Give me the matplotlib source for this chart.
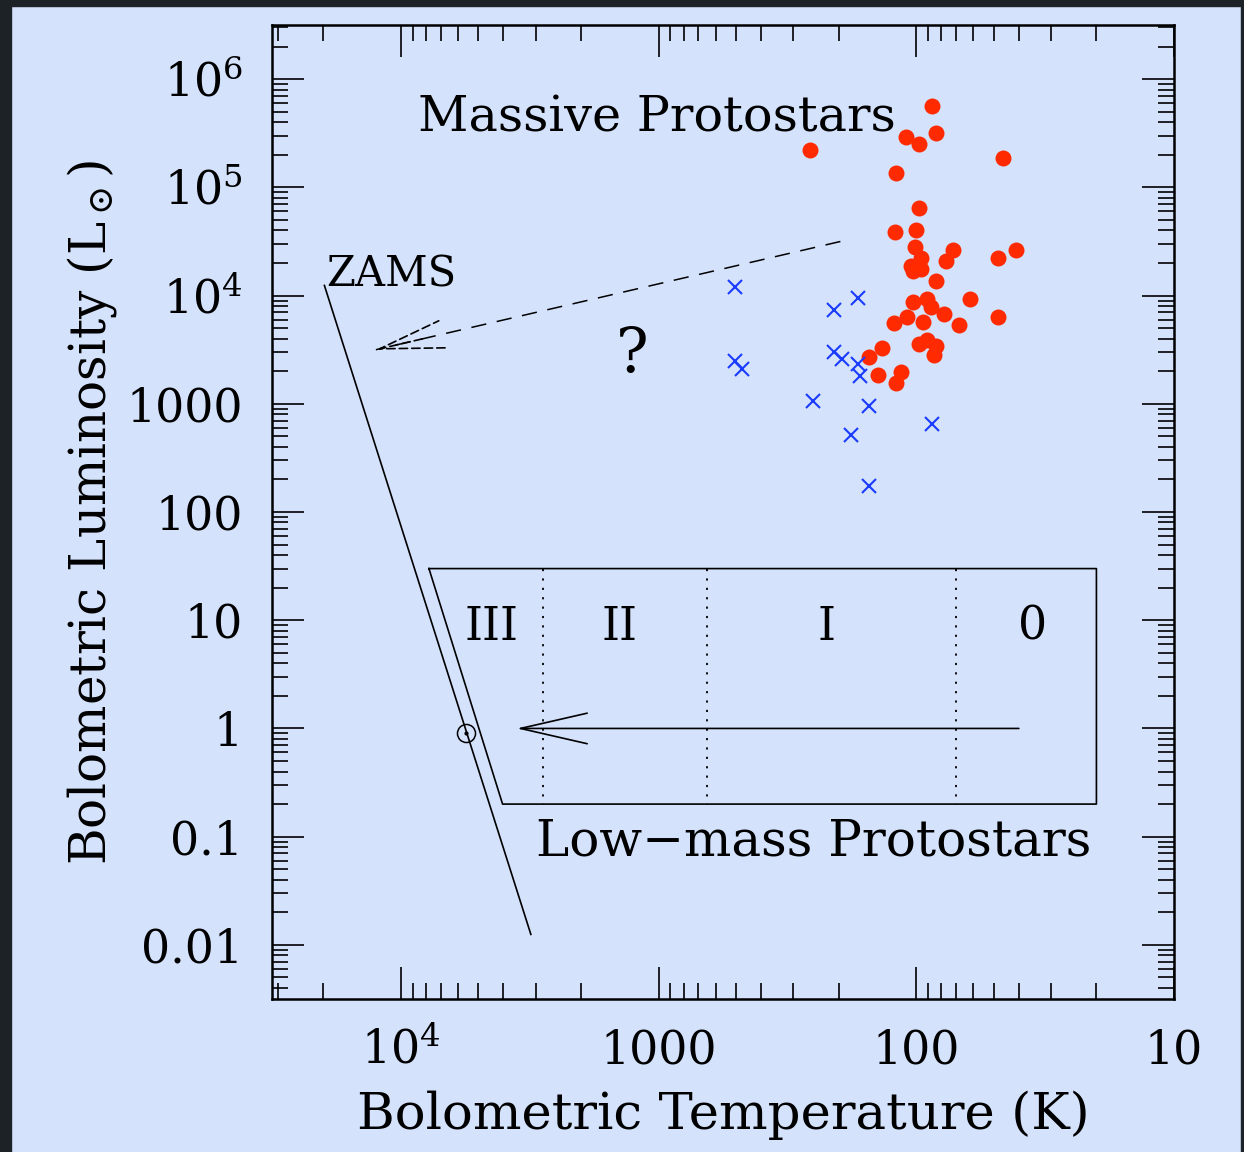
import numpy as np
import matplotlib
matplotlib.use("Agg")
import matplotlib.pyplot as plt
from matplotlib import ticker
from matplotlib.patches import Rectangle

plt.rcParams['font.family'] = ['DejaVu Serif', 'DejaVu Sans']
plt.rcParams['mathtext.fontset'] = 'dejavuserif'

# massive protostars (red dots): Tbol (K), Lbol (Lsun)
massive_T = [87, 110, 98, 84, 259, 46, 120, 98, 121, 100, 101, 72, 41, 48, 77,
             96, 105, 96, 103, 84, 62, 103, 91, 88, 78, 109, 122, 94, 68, 48,
             98, 91, 84, 85, 136, 152, 141, 115, 120]
massive_L = [5.6e5, 2.9e5, 2.5e5, 3.2e5, 2.2e5, 1.87e5, 1.35e5, 6.5e4, 3.9e4, 4.0e4,
             2.8e4, 2.65e4, 2.65e4, 2.2e4, 2.08e4, 2.2e4, 1.86e4, 1.76e4, 1.67e4, 1.37e4,
             9.3e3, 8.7e3, 9.3e3, 7.8e3, 6.8e3, 6.4e3, 5.6e3, 5.7e3, 5.3e3, 6.4e3,
             3.6e3, 3.9e3, 3.4e3, 2.8e3, 3.3e3, 2.7e3, 1.86e3, 1.95e3, 1.56e3]

# other sources (blue crosses)
cross_T = [505, 168, 208, 208, 194, 505, 474, 169, 166, 251, 153, 87, 179, 153]
cross_L = [1.19e4, 9.5e3, 7.3e3, 3.0e3, 2.6e3, 2.5e3, 2.1e3, 2.33e3, 1.79e3, 1060,
           946, 645, 518, 175]

# zero-age main sequence
zams_T = [19800, 3130]
zams_L = [1.24e4, 0.0125]

# low-mass protostar box (trapezoid) and class boundaries
box_T = [7780, 20, 20, 4030, 7780]
box_L = [30, 30, 0.2, 0.2, 30]
class_bounds = [2800, 650, 70]
class_names = ['III', 'II', 'I', '0']
class_T = [4440, 1416, 223, 35.5]

# evolution arrows (start, end)
lowmass_arrow_T = [40, 3550]
lowmass_arrow_L = [1, 1]
massive_arrow_T = [197, 12500]
massive_arrow_L = [3.16e4, 3160]

sun_T, sun_L = 5600, 0.9

bg = '#d4e2fc'
fig = plt.figure(figsize=(12.44, 11.52), dpi=100)
fig.patch.set_facecolor(bg)
W, H = 1244, 1152
for (x0, y0, w, h) in [(0, 0, 11, H), (0, H - 6, W, 6), (W - 3, 0, 3, H)]:
    fig.add_artist(Rectangle((x0 / W, y0 / H), w / W, h / H, transform=fig.transFigure,
                             color='#1d2226', zorder=10))

ax = fig.add_axes([272 / W, 1 - 999 / H, 902 / W, 974 / H])
ax.set_facecolor(bg)
ax.set_xscale('log')
ax.set_yscale('log')
ax.set_xlim(10 ** 4.5, 10)
ax.set_ylim(10 ** -2.5, 10 ** 6.5)

ax.plot(massive_T, massive_L, 'o', color='#ff2a00', ms=11.5, mec='none', zorder=3)
ax.plot(cross_T, cross_L, 'x', color='#1a3cff', ms=9.5, mew=1.5, zorder=3)

ax.plot(zams_T, zams_L, color='k', lw=1.2)
ax.plot(box_T, box_L, color='k', lw=1.2)
for tb in class_bounds:
    ax.plot([tb, tb], [box_L[0], box_L[2]], color='k', lw=1.3, ls=(0, (1.2, 4)))
for name, t in zip(class_names, class_T):
    ax.text(t, 6.6, name, ha='center', va='baseline', fontsize=33)

ax.plot([sun_T], [sun_L], 'o', ms=13, mfc='none', mec='k', mew=1.1)
ax.plot([sun_T], [sun_L], '.', ms=4, color='k')

ax.annotate('', xy=(lowmass_arrow_T[1], lowmass_arrow_L[1]),
            xytext=(lowmass_arrow_T[0], lowmass_arrow_L[0]),
            arrowprops=dict(arrowstyle='->,head_length=2.4,head_width=0.55', color='k',
                            lw=1.2, shrinkA=0, shrinkB=0, mutation_scale=20))

# dashed track for massive protostars: long dashed line, head drawn on a short piece
ax.plot(massive_arrow_T, massive_arrow_L, color='k', lw=1.1, ls=(0, (10, 7)))
lt = np.log10(massive_arrow_T)
ll = np.log10(massive_arrow_L)
head_from = (10 ** (lt[1] + 0.1 * (lt[0] - lt[1])), 10 ** (ll[1] + 0.1 * (ll[0] - ll[1])))
ax.annotate('', xy=(massive_arrow_T[1], massive_arrow_L[1]), xytext=head_from,
            arrowprops=dict(arrowstyle='->,head_length=2.3,head_width=0.5', color='k',
                            lw=1.2, ls=(0, (5, 2.5)), shrinkA=0, shrinkB=0,
                            mutation_scale=20))

ax.text(8600, 3.3e5, 'Massive Protostars', ha='left', va='baseline', fontsize=35.5)
ax.text(19500, 1.2e4, 'ZAMS', ha='left', va='baseline', fontsize=30)
ax.text(3000, 0.067, 'Low\u2212mass Protostars', ha='left', va='baseline', fontsize=36)
ax.text(1260, 1980, '?', ha='center', va='baseline', fontsize=44)


def fmt(v, pos):
    if v >= 1e4:
        return r'$10^{%d}$' % round(np.log10(v))
    if v >= 1:
        return '%d' % round(v)
    return '%g' % v


for axis in (ax.xaxis, ax.yaxis):
    axis.set_major_locator(ticker.LogLocator(base=10, subs=(1.0,), numticks=20))
    axis.set_minor_locator(ticker.LogLocator(base=10, subs=np.arange(2, 10), numticks=20))
    axis.set_major_formatter(ticker.FuncFormatter(fmt))
    axis.set_minor_formatter(ticker.NullFormatter())

ax.tick_params(which='both', direction='in', top=True, right=True, width=1.2,
               labelsize=33, pad=21)
ax.tick_params(which='major', length=23)
ax.tick_params(which='minor', length=11.5)
for sp in ax.spines.values():
    sp.set_linewidth(1.8)

ax.set_xlabel('Bolometric Temperature (K)', fontsize=37)
ax.set_ylabel(r'Bolometric Luminosity (L$_\odot$)', fontsize=36)
ax.xaxis.set_label_coords(0.5, -0.094)
ax.yaxis.set_label_coords(-0.17, 0.5)

fig.savefig('out.png', dpi=100, facecolor=fig.get_facecolor())
